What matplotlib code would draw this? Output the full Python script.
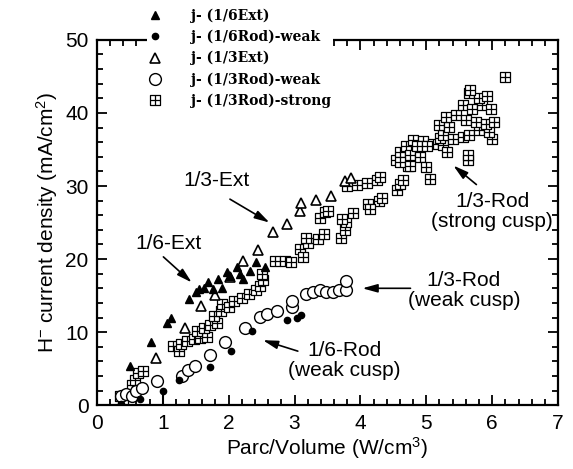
import matplotlib
matplotlib.use("Agg")
import matplotlib.pyplot as plt
from matplotlib.path import Path
from matplotlib.ticker import MultipleLocator

plt.rcParams['font.family'] = ['Liberation Sans', 'DejaVu Sans']
plt.rcParams['mathtext.fontset'] = 'custom'
plt.rcParams['mathtext.rm'] = 'Liberation Sans'
plt.rcParams['mathtext.it'] = 'Liberation Sans:italic'

# j-(1/6Ext): filled triangles
ext6_x = [0.51, 0.82, 1.06, 1.13, 1.40, 1.50, 1.55, 1.62, 1.69, 1.76, 1.84, 1.90,
          1.98, 2.02, 2.13, 2.18, 2.22, 2.32, 2.42, 2.55]
ext6_y = [5.3, 8.7, 11.3, 12.0, 14.5, 15.5, 15.9, 16.0, 16.8, 15.9, 17.3, 16.1,
          18.2, 17.7, 18.9, 18.0, 17.3, 18.3, 19.6, 18.9]

# j-(1/6Rod)-weak: filled circles
rod6_x = [0.37, 0.65, 1.00, 1.25, 1.72, 2.04, 2.35, 2.88, 3.04, 3.10]
rod6_y = [0.2, 0.9, 2.0, 3.4, 5.2, 7.4, 10.2, 11.6, 11.9, 12.3]

# j-(1/3Ext): open triangles
ext3_x = [0.90, 1.34, 1.58, 1.80, 2.02, 2.22, 2.44, 2.67, 2.88, 3.08, 3.10,
          3.33, 3.56, 3.76, 3.85]
ext3_y = [6.5, 10.5, 13.6, 15.1, 17.6, 19.7, 21.2, 23.7, 24.8, 26.6, 27.7,
          28.1, 28.6, 30.7, 31.1]

# j-(1/3Rod)-weak: open circles
rod3w_x = [0.37, 0.45, 0.53, 0.60, 0.68, 0.91, 1.29, 1.39, 1.49, 1.72, 1.95,
           2.25, 2.48, 2.58, 2.73, 2.96, 2.96, 3.18, 3.28, 3.38, 3.48, 3.58,
           3.68, 3.78, 3.78]
rod3w_y = [1.2, 1.5, 1.3, 2.0, 2.3, 3.3, 4.0, 4.8, 5.4, 6.9, 8.6,
           10.6, 12.1, 12.5, 12.9, 13.4, 14.3, 15.2, 15.5, 15.8, 15.5, 15.5,
           15.8, 15.8, 17.0]

# j-(1/3Rod)-strong: boxed crosses
rod3s_x = [0.35, 0.40, 0.45, 0.53, 0.58, 0.63, 0.70,
           1.16, 1.24, 1.27, 1.37, 1.47, 1.57, 1.67,
           1.52, 1.62, 1.72, 1.83, 1.78, 1.88, 1.90, 2.01,
           2.08, 2.21, 2.31, 2.41, 2.48, 2.52, 2.50,
           2.70, 2.85, 2.95, 3.08, 3.13, 3.20, 3.18, 3.35, 3.45,
           3.38, 3.46, 3.51, 3.71, 3.76, 3.78, 3.88, 3.72,
           3.80, 3.95, 4.10, 4.25, 4.30, 4.12, 4.28, 4.15, 4.33,
           4.55, 4.60, 4.64, 4.54, 4.60, 4.69, 4.72,
           4.75, 4.90, 4.60, 4.75, 5.00, 5.05,
           4.80, 4.95, 5.10, 5.25, 4.86, 5.01, 5.21, 5.32, 5.63, 5.64,
           5.25, 5.40, 5.55, 5.65, 5.80, 5.20, 5.35, 6.00, 5.95,
           5.30, 5.45, 5.60, 5.75, 5.90, 6.03,
           5.55, 5.70, 5.85, 5.98, 5.65, 5.80, 5.92, 5.67, 6.20]
rod3s_y = [1.3, 0.9, 1.4, 2.7, 3.5, 4.4, 4.7,
           8.1, 7.4, 8.4, 8.8, 9.0, 9.2, 9.3,
           10.1, 10.6, 11.0, 11.3, 12.2, 12.9, 13.9, 13.4,
           14.3, 14.7, 15.2, 15.7, 16.3, 17.1, 18.0,
           19.7, 19.8, 19.6, 21.4, 20.3, 22.2, 22.9, 22.7, 23.5,
           25.6, 26.4, 26.6, 22.9, 24.0, 25.1, 26.3, 25.5,
           30.0, 30.2, 30.4, 30.8, 31.3, 27.6, 28.0, 26.8, 28.4,
           29.5, 30.3, 30.8, 33.5, 34.6, 35.5, 32.8,
           34.2, 34.0, 33.3, 32.8, 32.6, 31.0,
           36.3, 36.1, 35.8, 35.6, 35.5, 35.5, 36.6, 34.7, 33.6, 34.3,
           37.0, 36.5, 36.7, 37.0, 37.7, 38.3, 38.1, 36.5, 37.4,
           39.5, 39.7, 39.0, 38.8, 38.5, 38.8,
           41.1, 40.6, 41.1, 40.6, 42.7, 42.1, 42.3, 43.2, 44.9]

labels = ['j- (1/6Ext)', 'j- (1/6Rod)-weak', 'j- (1/3Ext)',
          'j- (1/3Rod)-weak', 'j- (1/3Rod)-strong']

# square with a cross inside
box_cross = Path([(-1, -1), (1, -1), (1, 1), (-1, 1), (-1, -1),
                  (0, -1), (0, 1), (-1, 0), (1, 0)],
                 [Path.MOVETO, Path.LINETO, Path.LINETO, Path.LINETO, Path.CLOSEPOLY,
                  Path.MOVETO, Path.LINETO, Path.MOVETO, Path.LINETO])

fig = plt.figure(figsize=(5.73, 4.69), dpi=100)
ax = fig.add_axes([0.169, 0.136, 0.805, 0.779])

ax.plot(rod3s_x, rod3s_y, ls='none', marker=box_cross, ms=6.5, mfc='white',
        mec='black', mew=0.9, label=labels[4], zorder=3)
ax.plot(ext3_x, ext3_y, ls='none', marker='^', ms=7, mfc='white',
        mec='black', mew=1.2, label=labels[2], zorder=4)
ax.plot(rod3w_x, rod3w_y, ls='none', marker='o', ms=8.5, mfc='white',
        mec='black', mew=1.0, label=labels[3], zorder=4)
ax.plot(ext6_x, ext6_y, ls='none', marker='^', ms=5.5, color='black',
        label=labels[0], zorder=5)
ax.plot(rod6_x, rod6_y, ls='none', marker='o', ms=4.5, color='black',
        label=labels[1], zorder=5)
# the point at 1 W/cm3 carries a line down to the axis
ax.vlines(rod6_x[2], 0, rod6_y[2], color='black', lw=1.5, zorder=5)

ax.set_xlim(0, 7)
ax.set_ylim(0, 50)
ax.xaxis.set_major_locator(MultipleLocator(1))
ax.xaxis.set_minor_locator(MultipleLocator(0.2))
ax.yaxis.set_major_locator(MultipleLocator(10))
ax.yaxis.set_minor_locator(MultipleLocator(2))
ax.tick_params(which='both', direction='in', top=True, right=True, width=1.3)
ax.tick_params(which='major', length=7, labelsize=15, pad=6)
ax.tick_params(which='minor', length=4)
for s in ax.spines.values():
    s.set_linewidth(1.6)

ax.set_xlabel('Parc/Volume (W/cm$^3$)', fontsize=15, labelpad=2)
ax.set_ylabel('H$^{-}$ current density (mA/cm$^2$)', fontsize=15, labelpad=4)

# annotations
arrow = dict(arrowstyle='-|>,head_length=0.9,head_width=0.25', color='black',
             lw=1.2, shrinkA=0, shrinkB=0)
ax.text(1.81, 30.7, '1/3-Ext', fontsize=15, ha='center', va='center')
ax.annotate('', xy=(2.62, 25.0), xytext=(2.02, 28.2), arrowprops=arrow)
ax.text(1.09, 22.1, '1/6-Ext', fontsize=15, ha='center', va='center')
ax.annotate('', xy=(1.44, 16.8), xytext=(1.01, 20.3), arrowprops=arrow)
ax.text(6.0, 26.5, '1/3-Rod\n(strong cusp)', fontsize=15, ha='center',
        va='center', linespacing=1.1)
ax.annotate('', xy=(5.41, 32.8), xytext=(5.76, 30.2), arrowprops=arrow)
ax.text(5.57, 15.7, '1/3-Rod\n(weak cusp)', fontsize=15, ha='center',
        va='center', linespacing=1.1)
ax.annotate('', xy=(4.03, 16.0), xytext=(4.76, 16.0), arrowprops=arrow)
ax.text(3.76, 6.1, '1/6-Rod\n(weak cusp)', fontsize=15, ha='center',
        va='center', linespacing=1.1)
ax.annotate('', xy=(2.52, 8.9), xytext=(3.05, 7.4), arrowprops=arrow)

handles, labs = ax.get_legend_handles_labels()
order = [labs.index(l) for l in labels]
leg = ax.legend([handles[i] for i in order], [labs[i] for i in order],
                loc='upper left', bbox_to_anchor=(0.108, 1.09),
                borderaxespad=0, borderpad=0.1, handlelength=1.0,
                handletextpad=2.1, labelspacing=0.5, frameon=True,
                fancybox=False, edgecolor='none', facecolor='white',
                framealpha=1, prop={'family': 'DejaVu Serif', 'weight': 'bold',
                                    'size': 10})
leg.set_zorder(10)

fig.savefig('out.png', dpi=100)
